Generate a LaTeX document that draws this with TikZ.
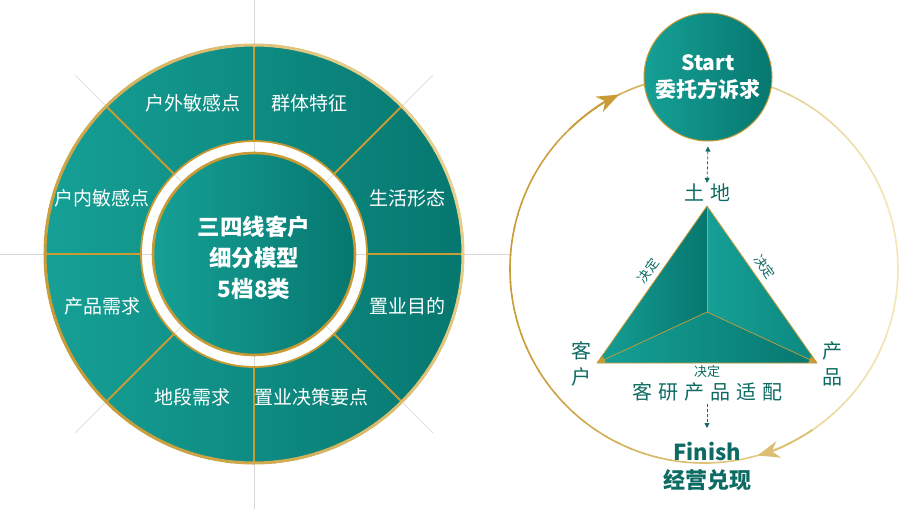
\documentclass[tikz,border=0pt]{standalone}
\usepackage{fontspec}
\setmainfont{Noto Sans CJK SC}
\usetikzlibrary{arrows.meta}
\definecolor{tealL}{HTML}{16A096}
\definecolor{tealM}{HTML}{0C887F}
\definecolor{tealD}{HTML}{06776F}
\definecolor{gold}{HTML}{C99B35}
\definecolor{pale}{HTML}{F3E8B8}
\definecolor{guide}{HTML}{D6D6D6}
\definecolor{txt}{HTML}{0E6B63}
\begin{document}
\begin{tikzpicture}[x=1pt,y=-1pt,
  wl/.style={text=white, font=\fontsize{19}{23}\selectfont, inner sep=0pt},
  tl/.style={text=txt, font=\fontsize{20}{26}\selectfont, inner sep=0pt, align=center},
  jd/.style={text=txt, font=\fontsize{13}{15}\selectfont, inner sep=0pt},
  goldline/.style={draw=gold, line width=2pt},
  dasharrow/.style={draw=txt, line width=0.8pt, dash pattern=on 3pt off 2pt},
  tealshade/.style={left color=tealL, right color=tealD}
]
\useasboundingbox (0,0) rectangle (900,509);
\fill[white] (0,0) rectangle (900,509);

% ---------- guides ----------
\coordinate (W) at (254,254);
\draw[guide, line width=0.6pt] (254,0) -- (254,509);
\draw[guide, line width=0.6pt] (0,254) -- (510,254);
\draw[guide, line width=0.6pt] (75,75) -- (433,433);
\draw[guide, line width=0.6pt] (433,75) -- (75,433);

% ---------- wheel ----------
\shade[tealshade, even odd rule] (W) circle[radius=210] (W) circle[radius=113];
\foreach \a in {0,45,...,315}
  \draw[goldline] (W) ++(\a:113) -- ++(\a:97);
\foreach \a in {0,6,...,354}{
  \pgfmathtruncatemacro\p{35+35*cos(\a+30)}
  \draw[line width=3pt, color=pale!\p!gold] (W) ++(\a:209) arc[start angle=\a, end angle=\a+6.5, radius=209];
}
\draw[gold, line width=1.8pt] (W) circle[radius=113];
\shade[tealshade] (W) circle[radius=101];
\draw[gold, line width=2.6pt] (W) circle[radius=101];

\node[wl, anchor=east] (w1) at (241,103) {户外敏感点};
\node[wl, anchor=west] (w2) at (271,103) {群体特征};
\node[wl] (w3) at (407,198) {生活形态};
\node[wl] (w4) at (407,306) {置业目的};
\node[wl] (w5) at (311,397) {置业决策要点};
\node[wl] (w6) at (192,397) {地段需求};
\node[wl] (w7) at (102,306) {产品需求};
\node[wl] (w8) at (102,198) {户内敏感点};
\node[text=white, font=\bfseries\fontsize{22.5}{31}\selectfont, align=center, inner sep=0pt] (core) at (254,258) {三四线客户\\细分模型\\5档8类};

% ---------- big cycle ring ----------
\coordinate (C) at (704,269);
\foreach \a in {0,4,...,356}{
  \pgfmathtruncatemacro\p{50+50*cos(\a+2)}
  \draw[line width=1.6pt, color=pale!\p!gold] (C) ++(\a:194) arc[start angle=\a, end angle=\a+4.4, radius=194];
}
\draw[gold, line width=1.6pt, -{Stealth[length=22pt, width=17pt, inset=7pt]}] (C) ++(226:194) arc[start angle=226, end angle=244, radius=194];
\draw[gold!55!pale, line width=1.6pt, -{Stealth[length=22pt, width=17pt, inset=7pt]}] (C) ++(56:194) arc[start angle=56, end angle=74, radius=194];

% ---------- start ----------
\node[circle, minimum size=128pt, inner sep=0pt, tealshade, draw=gold, line width=1pt,
      text=white, font=\bfseries\fontsize{21}{27}\selectfont, align=center] (start) at (708,77) {Start\\委托方诉求};

% ---------- triangle ----------
\coordinate (A) at (707,206);
\coordinate (L) at (597,363);
\coordinate (R) at (817,363);
\coordinate (O) at (707,312);
\shade[left color=tealL, right color=tealD] (A) -- (L) -- (O) -- cycle;
\shade[left color=tealL, right color=tealM] (A) -- (O) -- (R) -- cycle;
\shade[left color=tealL, right color=tealD] (L) -- (O) -- (R) -- cycle;
\draw[gold, line width=0.8pt, line join=round] (A) -- (L) -- (R) -- cycle;
\draw[gold, line width=0.7pt] (A) -- (O);
\draw[gold, line width=0.7pt, -{Triangle[length=8pt, width=7pt]}] (O) -- (L);
\draw[gold, line width=0.7pt, -{Triangle[length=8pt, width=7pt]}] (O) -- (R);

\node[tl] (land) at (707,193) {土\hspace{6pt}地};
\node[tl] (cust) at (581,364) {客\\户};
\node[tl] (prod) at (832,364) {产\\品};
\node[tl] (fit) at (707,392) {客\hspace{6pt}研\hspace{6pt}产\hspace{6pt}品\hspace{6pt}适\hspace{6pt}配};
\node[jd, rotate=55] (d1) at (648,271) {决定};
\node[jd, rotate=-55] (d2) at (765,267) {决定};
\node[jd] (d3) at (707,372) {决定};

\draw[dasharrow, {Triangle[length=5pt, width=5pt]}-{Triangle[length=5pt, width=5pt]}] ([yshift=-5pt]start.south) -- ([yshift=1pt]land.north);
\coordinate (ftip) at (707,428);
\draw[dasharrow, -{Triangle[length=5pt, width=5pt]}] ([yshift=-2pt]fit.south) -- (ftip);

\node[text=txt, font=\bfseries\fontsize{22}{28}\selectfont, align=center, inner sep=0pt] (finish) at (707,466) {Finish\\经营兑现};
\end{tikzpicture}
\end{document}
